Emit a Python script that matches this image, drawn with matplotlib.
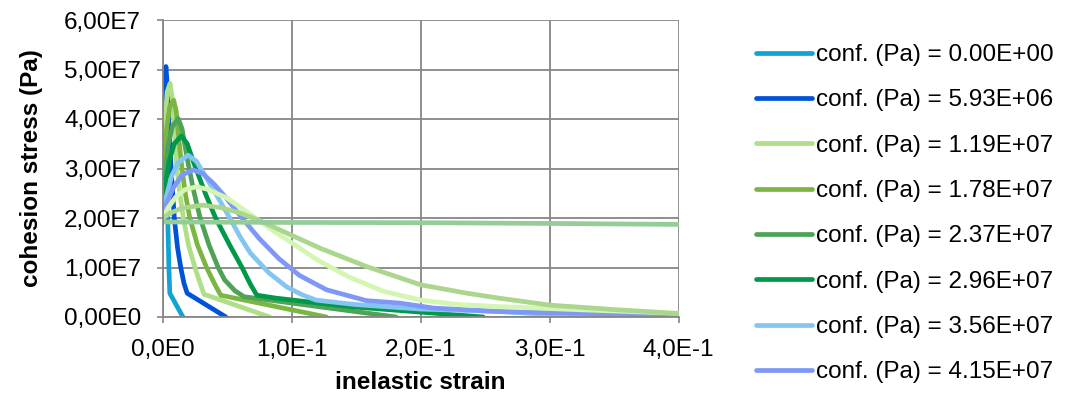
import numpy as np
import matplotlib
matplotlib.use("Agg")
import matplotlib.pyplot as plt

plt.rcParams['font.family'] = ['Liberation Sans', 'DejaVu Sans']

# confinement values, one curve each (legend only shows the first 8)
conf_labels = ["0.00E+00", "5.93E+06", "1.19E+07", "1.78E+07", "2.37E+07", "2.96E+07",
               "3.56E+07", "4.15E+07", "4.74E+07", "5.34E+07", "5.93E+07"]
colors = ["#12a3d6", "#0052d6", "#afdf86", "#7cb642", "#4fa356", "#00994a",
          "#84c5f2", "#7f98f7", "#d3f6b2", "#abd68d", "#93cd98"]

# stress values are in units of 1e7 Pa
strain_0 = [0, 0.001, 0.002, 0.003, 0.004, 0.0048, 0.0055, 0.0157]
stress_0 = [2.0, 2.6, 2.75, 2.5, 1.9, 1.0, 0.48, 0.0]

strain_1 = [0, 0.0008, 0.0015, 0.0025, 0.0035, 0.0045, 0.0065, 0.009, 0.0115, 0.014, 0.0165, 0.019, 0.049]
stress_1 = [2.0, 3.5, 4.7, 5.06, 4.7, 4.1, 3.0, 2.0, 1.4, 1.0, 0.68, 0.48, 0.0]

strain_2 = [0, 0.001, 0.002, 0.0035, 0.0057, 0.007, 0.0085, 0.011, 0.0135, 0.016, 0.02, 0.025, 0.029, 0.032, 0.083]
stress_2 = [2.0, 3.2, 4.0, 4.55, 4.72, 4.5, 4.0, 3.0, 2.45, 2.0, 1.45, 1.0, 0.68, 0.46, 0.0]

strain_3 = [0, 0.0015, 0.003, 0.0055, 0.0085, 0.0105, 0.0125, 0.0145, 0.0175, 0.021, 0.027, 0.034, 0.04, 0.045, 0.127]
stress_3 = [2.0, 3.1, 3.8, 4.25, 4.38, 4.15, 3.6, 3.1, 2.5, 2.0, 1.45, 1.0, 0.68, 0.44, 0.0]

strain_4 = [0, 0.002, 0.004, 0.0075, 0.012, 0.015, 0.019, 0.024, 0.029, 0.036, 0.043, 0.048, 0.056, 0.063, 0.181]
stress_4 = [2.0, 2.9, 3.45, 3.85, 4.01, 3.8, 3.2, 2.55, 2.0, 1.45, 1.0, 0.75, 0.53, 0.41, 0.0]

strain_5 = [0, 0.002, 0.005, 0.009, 0.0145, 0.019, 0.025, 0.033, 0.041, 0.052, 0.0615, 0.068, 0.073, 0.088, 0.145, 0.2485]
stress_5 = [2.0, 2.65, 3.15, 3.5, 3.66, 3.5, 3.05, 2.5, 2.0, 1.45, 1.0, 0.66, 0.44, 0.38, 0.21, 0.0]

strain_6 = [0, 0.003, 0.007, 0.012, 0.0196, 0.026, 0.033, 0.042, 0.052, 0.06, 0.068, 0.082, 0.096, 0.108, 0.119,
            0.15, 0.2, 0.261, 0.331]
stress_6 = [2.0, 2.45, 2.85, 3.12, 3.27, 3.15, 2.85, 2.45, 2.0, 1.62, 1.29, 0.9, 0.61, 0.45, 0.34,
            0.25, 0.16, 0.11, 0.0]

strain_7 = [0, 0.003, 0.008, 0.015, 0.0235, 0.031, 0.04, 0.05, 0.0615, 0.075, 0.09, 0.106, 0.127, 0.158, 0.184,
            0.21, 0.261, 0.33, 0.4]
stress_7 = [2.0, 2.3, 2.6, 2.87, 2.97, 2.9, 2.68, 2.38, 2.0, 1.58, 1.18, 0.84, 0.55, 0.33, 0.28,
            0.18, 0.11, 0.07, 0.04]

strain_8 = [0, 0.004, 0.01, 0.017, 0.026, 0.035, 0.05, 0.0677, 0.085, 0.1, 0.12, 0.145, 0.171, 0.2, 0.23,
            0.261, 0.33, 0.4]
stress_8 = [2.0, 2.2, 2.42, 2.57, 2.63, 2.58, 2.4, 2.08, 1.75, 1.5, 1.15, 0.8, 0.52, 0.34, 0.25,
            0.21, 0.14, 0.075]

strain_9 = [0, 0.006, 0.015, 0.031, 0.045, 0.06, 0.075, 0.1, 0.122, 0.158, 0.2, 0.236, 0.261, 0.3, 0.35, 0.4]
stress_9 = [2.0, 2.1, 2.2, 2.26, 2.21, 2.1, 1.95, 1.65, 1.39, 1.02, 0.65, 0.48, 0.38, 0.24, 0.15, 0.07]

strain_10 = [0, 0.1, 0.2, 0.3, 0.4]
stress_10 = [1.92, 1.91, 1.905, 1.89, 1.87]

strains = [strain_0, strain_1, strain_2, strain_3, strain_4, strain_5,
           strain_6, strain_7, strain_8, strain_9, strain_10]
stresses = [stress_0, stress_1, stress_2, stress_3, stress_4, stress_5,
            stress_6, stress_7, stress_8, stress_9, stress_10]

x_ticks = [0.0, 0.1, 0.2, 0.3, 0.4]
x_tick_labels = ["0,0E0", "1,0E-1", "2,0E-1", "3,0E-1", "4,0E-1"]
y_ticks = [0, 1e7, 2e7, 3e7, 4e7, 5e7, 6e7]
y_tick_labels = ["0,00E0", "1,00E7", "2,00E7", "3,00E7", "4,00E7", "5,00E7", "6,00E7"]

fs = 17.5
grid_col = "#868686"

fig = plt.figure(figsize=(10.89, 4.0), dpi=100)
ax = fig.add_axes([162.7 / 1089, 83 / 400, 516 / 1089, 297 / 400])

lines = []
for i in range(len(strains)):
    ln, = ax.plot(strains[i], np.array(stresses[i]) * 1e7, color=colors[i], lw=3.4,
                  solid_capstyle='round', solid_joinstyle='round',
                  label="conf. (Pa) = " + conf_labels[i])
    lines.append(ln)

ax.set_xlim(0, 0.4)
ax.set_ylim(0, 6e7)
ax.set_xticks(x_ticks)
ax.set_xticklabels(x_tick_labels)
ax.set_yticks(y_ticks)
ax.set_yticklabels(y_tick_labels)
ax.tick_params(axis='both', labelsize=fs, color=grid_col, length=4.5, width=1.2, pad=11)

ax.grid(True, color=grid_col, lw=1.3)
ax.set_axisbelow(True)
for side in ['top', 'right']:
    ax.spines[side].set_visible(False)
for side in ['left', 'bottom']:
    ax.spines[side].set_color(grid_col)
    ax.spines[side].set_linewidth(1.3)

ax.set_xlabel("inelastic strain", fontsize=fs, fontweight='bold')
ax.xaxis.label.set_va('center')
ax.xaxis.set_label_coords(0.4987, -0.222)
ax.set_ylabel("cohesion stress (Pa)", fontsize=fs, fontweight='bold')
ax.yaxis.label.set_va('center')
ax.yaxis.set_label_coords(-0.2533, 0.5)

# the legend box is cut off at the bottom, only 8 entries visible
leg = fig.legend(handles=lines[:8], loc='upper left', bbox_to_anchor=(756 / 1089, 1 - 44 / 400),
                 frameon=False, fontsize=fs, handlelength=2.3, handletextpad=0.16,
                 labelspacing=0.96, borderpad=0, borderaxespad=0)

fig.savefig("out.png", dpi=100)
